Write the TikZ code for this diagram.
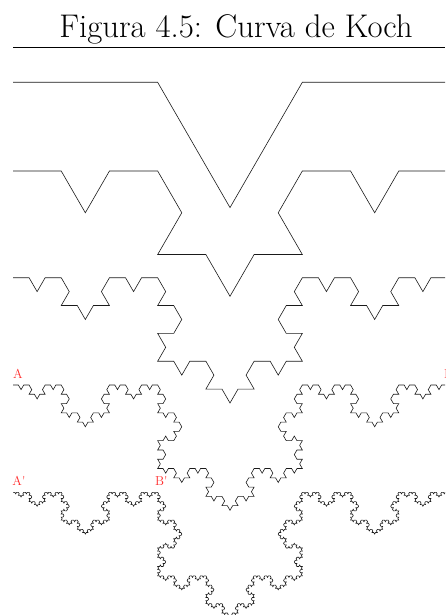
\documentclass[tikz,border=0pt]{standalone}
\usepackage{xcolor}
\usepackage{tikz}
\usetikzlibrary{lindenmayersystems}
\definecolor{kochline}{HTML}{1a1a1a}
\definecolor{kochlabel}{HTML}{ff2a2a}
\pgfdeclarelindenmayersystem{Koch down}{\rule{F -> F-F++F-F}}

\begin{document}
\begin{tikzpicture}[x=1pt, y=1pt,
 curve/.style={draw=kochline, line width=0.6pt, line join=miter},
 lbl/.style={text=kochlabel, font=\fontsize{13}{15}\selectfont, inner sep=0pt, anchor=base west}]
\useasboundingbox (0,0) rectangle (445,-615);
\clip (0,0) rectangle (445,-615);
\node[font=\fontsize{32.8}{38}\selectfont, anchor=base](title) at (236,-37.5){Figura 4.5: Curva de Koch};
\coordinate (r1) at (13,-47);
\coordinate (r2) at (445,-47);
\draw[line width=0.8pt] (r1) -- (r2);

% one row per order of the curve
\foreach \n/\y in {1/82.3,2/171,3/277.7,4/385,5/492.3}
  {\pgfmathsetmacro\len{434/3^\n}
   \draw[curve, shift={(13,-\y)},
     lindenmayer system={Koch down, axiom=F, order=\n, step=\len pt, angle=60}] lindenmayer system;}

\node[lbl](A) at (13,-378.7){A};
\node[lbl](B) at (444,-378.7){B};
\node[lbl](A2) at (12.3,-485.7){A\textquotesingle};
\node[lbl](B2) at (155,-485.7){B\textquotesingle};

\end{tikzpicture}
\end{document}
